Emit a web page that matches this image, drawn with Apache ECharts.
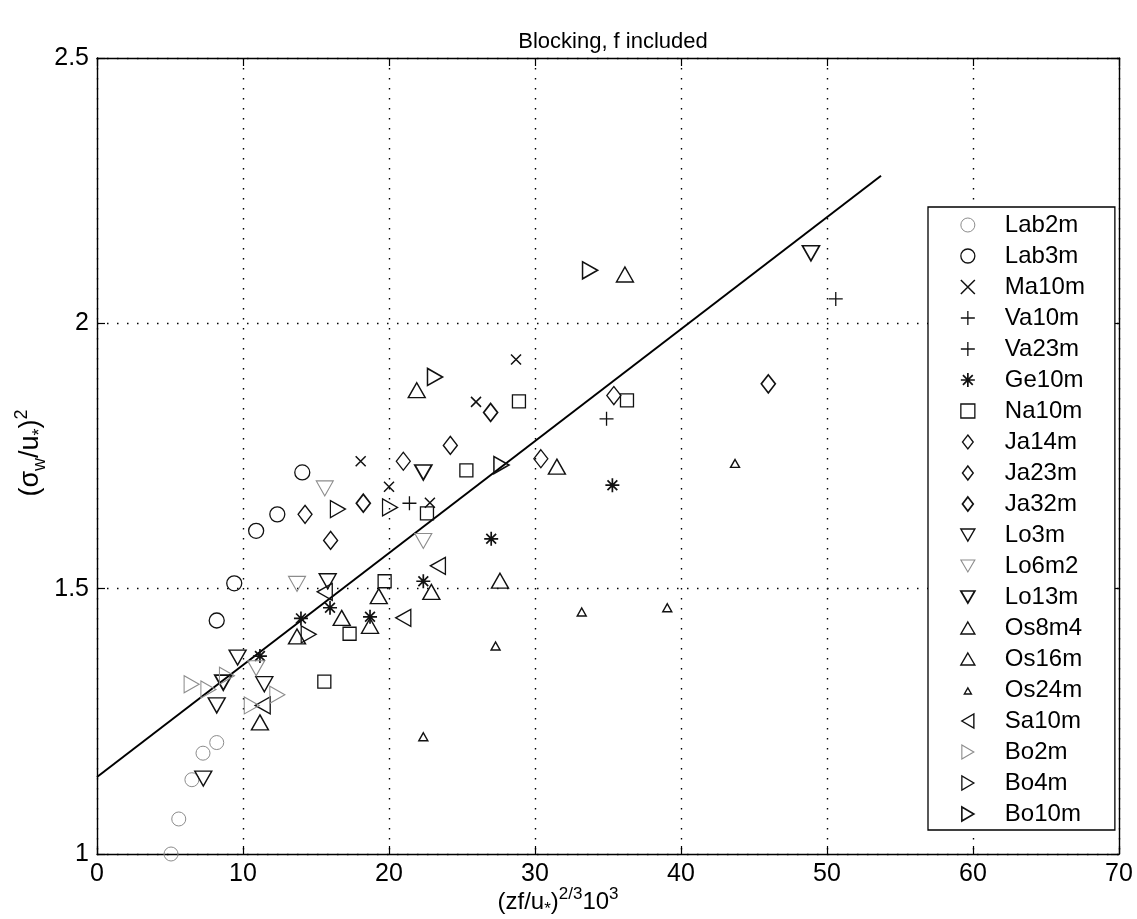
<!DOCTYPE html>
<html>
<head>
<meta charset="utf-8">
<script src="https://cdn.jsdelivr.net/npm/echarts@6/dist/echarts.min.js"></script>
<style>
  html, body { margin: 0; padding: 0; background: #fff; }
  #chart { width: 1137px; height: 919px; }
</style>
</head>
<body>
<div id="chart"></div>
<script>
// ---- axis ticks ----
const xTickValues = [0, 10, 20, 30, 40, 50, 60, 70];
const yTickValues = [1, 1.5, 2, 2.5];

// ---- measurements: [(zf/u*)^(2/3)*10^3, (sigma_w/u*)^2] ----
const lab2m = [[5.07, 1.0], [5.6, 1.066], [6.5, 1.14], [7.26, 1.19], [8.2, 1.21]];
const lab3m = [[8.2, 1.44], [9.4, 1.51], [10.9, 1.609], [12.35, 1.64], [14.06, 1.719]];
const ma10m = [[18.06, 1.74], [20.0, 1.692], [22.8, 1.662], [25.96, 1.852], [28.7, 1.932]];
const va10m = [[21.4, 1.661], [34.9, 1.82]];
const va23m = [[50.6, 2.046]];
const ge10m = [[11.16, 1.373], [13.97, 1.444], [15.96, 1.464], [18.7, 1.447], [22.35, 1.514], [27.0, 1.594], [35.3, 1.695]];
const na10m = [[15.57, 1.325], [17.3, 1.415], [19.7, 1.514], [22.6, 1.642], [25.3, 1.723], [28.9, 1.853], [36.3, 1.855]];
const ja14m = [[14.25, 1.64], [20.98, 1.74], [30.4, 1.745]];
const ja23m = [[16.0, 1.591], [24.2, 1.77], [35.4, 1.864]];
const ja32m = [[18.24, 1.661], [26.96, 1.832], [45.98, 1.886]];
const lo3m = [[7.28, 1.142], [8.2, 1.28], [9.63, 1.37], [11.46, 1.32], [15.8, 1.514]];
const lo6m2 = [[10.9, 1.35], [13.7, 1.509], [15.6, 1.689], [22.35, 1.59]];
const lo13m = [[8.65, 1.323], [22.35, 1.719], [48.9, 2.132]];
const os8m4 = [[11.16, 1.248], [13.7, 1.41], [16.76, 1.445], [18.7, 1.43], [19.3, 1.486]];
const os16m = [[22.9, 1.494], [27.6, 1.515], [31.5, 1.73], [21.9, 1.874], [36.16, 2.092]];
const os24m = [[22.35, 1.221], [27.3, 1.392], [33.2, 1.456], [39.06, 1.464], [43.7, 1.736]];
const sa10m = [[11.35, 1.28], [15.6, 1.494], [20.98, 1.445], [23.35, 1.543]];
const bo2m = [[6.48, 1.32], [7.63, 1.31], [8.9, 1.336], [10.6, 1.28], [12.35, 1.30]];
const bo4m = [[14.5, 1.414], [16.5, 1.65], [20.07, 1.653]];
const bo10m = [[23.15, 1.899], [27.7, 1.733], [33.77, 2.10]];

// ---- fitted line ----
const fitX = [0, 53.7];
const fitY = [1.145, 2.278];

// ---- marker shapes ----
const FONT = '"Liberation Sans", Arial, Helvetica, sans-serif';
const BLACK = '#111';
const GREY = '#8c8c8c';
const SYM = {
  circle: 'circle',
  cross: 'path://M0,0L10,10M0,10L10,0',
  plus: 'path://M5,0L5,10M0,5L10,5',
  star: 'path://M5,0L5,10M0,5L10,5M1.5,1.5L8.5,8.5M1.5,8.5L8.5,1.5',
  square: 'path://M0,0L10,0L10,10L0,10Z',
  diamond: 'path://M5,0L10,6.5L5,13L0,6.5Z',
  down: 'path://M0,0L14,0L7,12Z',
  up: 'path://M7,0L14,12L0,12Z',
  left: 'path://M12,0L12,14L0,7Z',
  right: 'path://M0,0L0,14L12,7Z',
  smallUp: 'path://M0,0M14,14M3.5,11L7,5L10.5,11Z'
};

// name, data, symbol, size, stroke colour, stroke width, legend icon
const seriesDefs = [
  ['Lab2m', lab2m, SYM.circle, 14, GREY, 1, SYM.circle],
  ['Lab3m', lab3m, SYM.circle, 15, BLACK, 1.3, SYM.circle],
  ['Ma10m', ma10m, SYM.cross, 10, BLACK, 1.5, SYM.cross],
  ['Va10m', va10m, SYM.plus, 14, BLACK, 1.3, SYM.plus],
  ['Va23m', va23m, SYM.plus, 14, BLACK, 1.3, SYM.plus],
  ['Ge10m', ge10m, SYM.star, 14, BLACK, 1.7, SYM.star],
  ['Na10m', na10m, SYM.square, 13, BLACK, 1.3, SYM.square],
  ['Ja14m', ja14m, SYM.diamond, [14, 18], BLACK, 1.3, SYM.diamond],
  ['Ja23m', ja23m, SYM.diamond, [14, 18], BLACK, 1.4, SYM.diamond],
  ['Ja32m', ja32m, SYM.diamond, [14, 18], BLACK, 1.7, SYM.diamond],
  ['Lo3m', lo3m, SYM.down, [17, 15], BLACK, 1.4, SYM.down],
  ['Lo6m2', lo6m2, SYM.down, [17, 15], GREY, 1.1, SYM.down],
  ['Lo13m', lo13m, SYM.down, [17, 15], BLACK, 1.7, SYM.down],
  ['Os8m4', os8m4, SYM.up, [17, 15], BLACK, 1.4, SYM.up],
  ['Os16m', os16m, SYM.up, [17, 15], BLACK, 1.4, SYM.up],
  ['Os24m', os24m, SYM.up, [9, 8], BLACK, 1.4, SYM.smallUp],
  ['Sa10m', sa10m, SYM.left, [15, 17], BLACK, 1.4, SYM.left],
  ['Bo2m', bo2m, SYM.right, [15, 17], GREY, 1.1, SYM.right],
  ['Bo4m', bo4m, SYM.right, [15, 17], BLACK, 1.3, SYM.right],
  ['Bo10m', bo10m, SYM.right, [15, 17], BLACK, 1.6, SYM.right]
];

const chart = echarts.init(document.getElementById('chart'), null, { renderer: 'canvas' });

const scatterSeries = seriesDefs.map(([name, data, symbol, size, color, width]) => ({
  name,
  type: 'scatter',
  data,
  symbol,
  symbolSize: size,
  itemStyle: { color: 'rgba(0,0,0,0)', borderColor: color, borderWidth: width, opacity: 1 },
  emphasis: { disabled: true },
  silent: true,
  z: 3
}));

const fitSeries = {
  name: 'fit',
  type: 'line',
  data: fitX.map((x, i) => [x, fitY[i]]),
  showSymbol: false,
  symbol: 'none',
  lineStyle: { color: '#000', width: 2 },
  silent: true,
  z: 2
};

const legendData = seriesDefs.map(([name, , , , color, width, icon]) => ({
  name,
  icon,
  itemStyle: { color: 'rgba(0,0,0,0)', borderColor: color, borderWidth: width }
}));

const dotted = { color: '#000', width: 1.4, type: [1.5, 8.5] };
const axisBase = {
  type: 'value',
  axisLine: { show: true, onZero: false, lineStyle: { color: '#000', width: 1.4 } },
  axisTick: { show: true, inside: true, length: 8, lineStyle: { color: '#000', width: 1.2 } }
};

chart.setOption({
  animation: false,
  backgroundColor: '#fff',
  title: {
    text: 'Blocking, f included',
    left: 608,
    top: 26,
    textAlign: 'center',
    textStyle: { fontFamily: FONT, fontSize: 22, fontWeight: 'normal', color: '#000' }
  },
  grid: { left: 97, right: 18, top: 58, bottom: 65, containLabel: false },
  xAxis: [
    Object.assign({}, axisBase, {
      min: 0, max: 70, interval: 10, position: 'bottom',
      axisLabel: { show: true, margin: 8, fontFamily: FONT, fontSize: 25, color: '#000',
        customValues: xTickValues },
      splitLine: { show: true, lineStyle: dotted }
    }),
    Object.assign({}, axisBase, {
      min: 0, max: 70, interval: 10, position: 'top',
      axisLabel: { show: false }, splitLine: { show: false }
    })
  ],
  yAxis: [
    Object.assign({}, axisBase, {
      min: 1, max: 2.5, interval: 0.5, position: 'left',
      axisLabel: { show: true, margin: 8, fontFamily: FONT, fontSize: 25, color: '#000',
        customValues: yTickValues },
      splitLine: { show: true, lineStyle: dotted }
    }),
    Object.assign({}, axisBase, {
      min: 1, max: 2.5, interval: 0.5, position: 'right',
      axisLabel: { show: false }, splitLine: { show: false }
    })
  ],
  legend: {
    show: true,
    orient: 'vertical',
    left: 928,
    top: 207,
    padding: [6, 30, 4, 32],
    itemWidth: 14,
    itemHeight: 14,
    itemGap: 7,
    selectedMode: false,
    backgroundColor: '#fff',
    borderColor: '#000',
    borderWidth: 1.3,
    data: legendData,
    formatter: name => '{g|}{n|' + name + '}',
    textStyle: {
      color: '#000',
      rich: {
        g: { width: 25 },
        n: { fontFamily: FONT, fontSize: 24, lineHeight: 23, color: '#000' }
      }
    },
    z: 10
  },
  graphic: [
    {
      type: 'text',
      x: 558,
      y: 902,
      silent: true,
      style: {
        text: '{m|(zf/u}{sub|*}{m|)}{sup|2/3}{m|10}{sup|3}',
        align: 'center',
        verticalAlign: 'middle',
        rich: {
          m: { fontFamily: FONT, fontSize: 24, lineHeight: 32, verticalAlign: 'middle', fill: '#000' },
          sub: { fontFamily: FONT, fontSize: 17, lineHeight: 17, verticalAlign: 'bottom', fill: '#000' },
          sup: { fontFamily: FONT, fontSize: 17, lineHeight: 17, verticalAlign: 'top', fill: '#000' }
        }
      }
    },
    {
      type: 'text',
      x: 31,
      y: 453,
      rotation: Math.PI / 2,
      silent: true,
      style: {
        text: '{m|(σ}{sub|w}{m|/u}{sub|*}{m|)}{sup|2}',
        align: 'center',
        verticalAlign: 'middle',
        rich: {
          m: { fontFamily: FONT, fontSize: 27, lineHeight: 36, verticalAlign: 'middle', fill: '#000' },
          sub: { fontFamily: FONT, fontSize: 18, lineHeight: 18, verticalAlign: 'bottom', fill: '#000' },
          sup: { fontFamily: FONT, fontSize: 18, lineHeight: 18, verticalAlign: 'top', fill: '#000' }
        }
      }
    }
  ],
  series: [fitSeries].concat(scatterSeries)
});
</script>
</body>
</html>
